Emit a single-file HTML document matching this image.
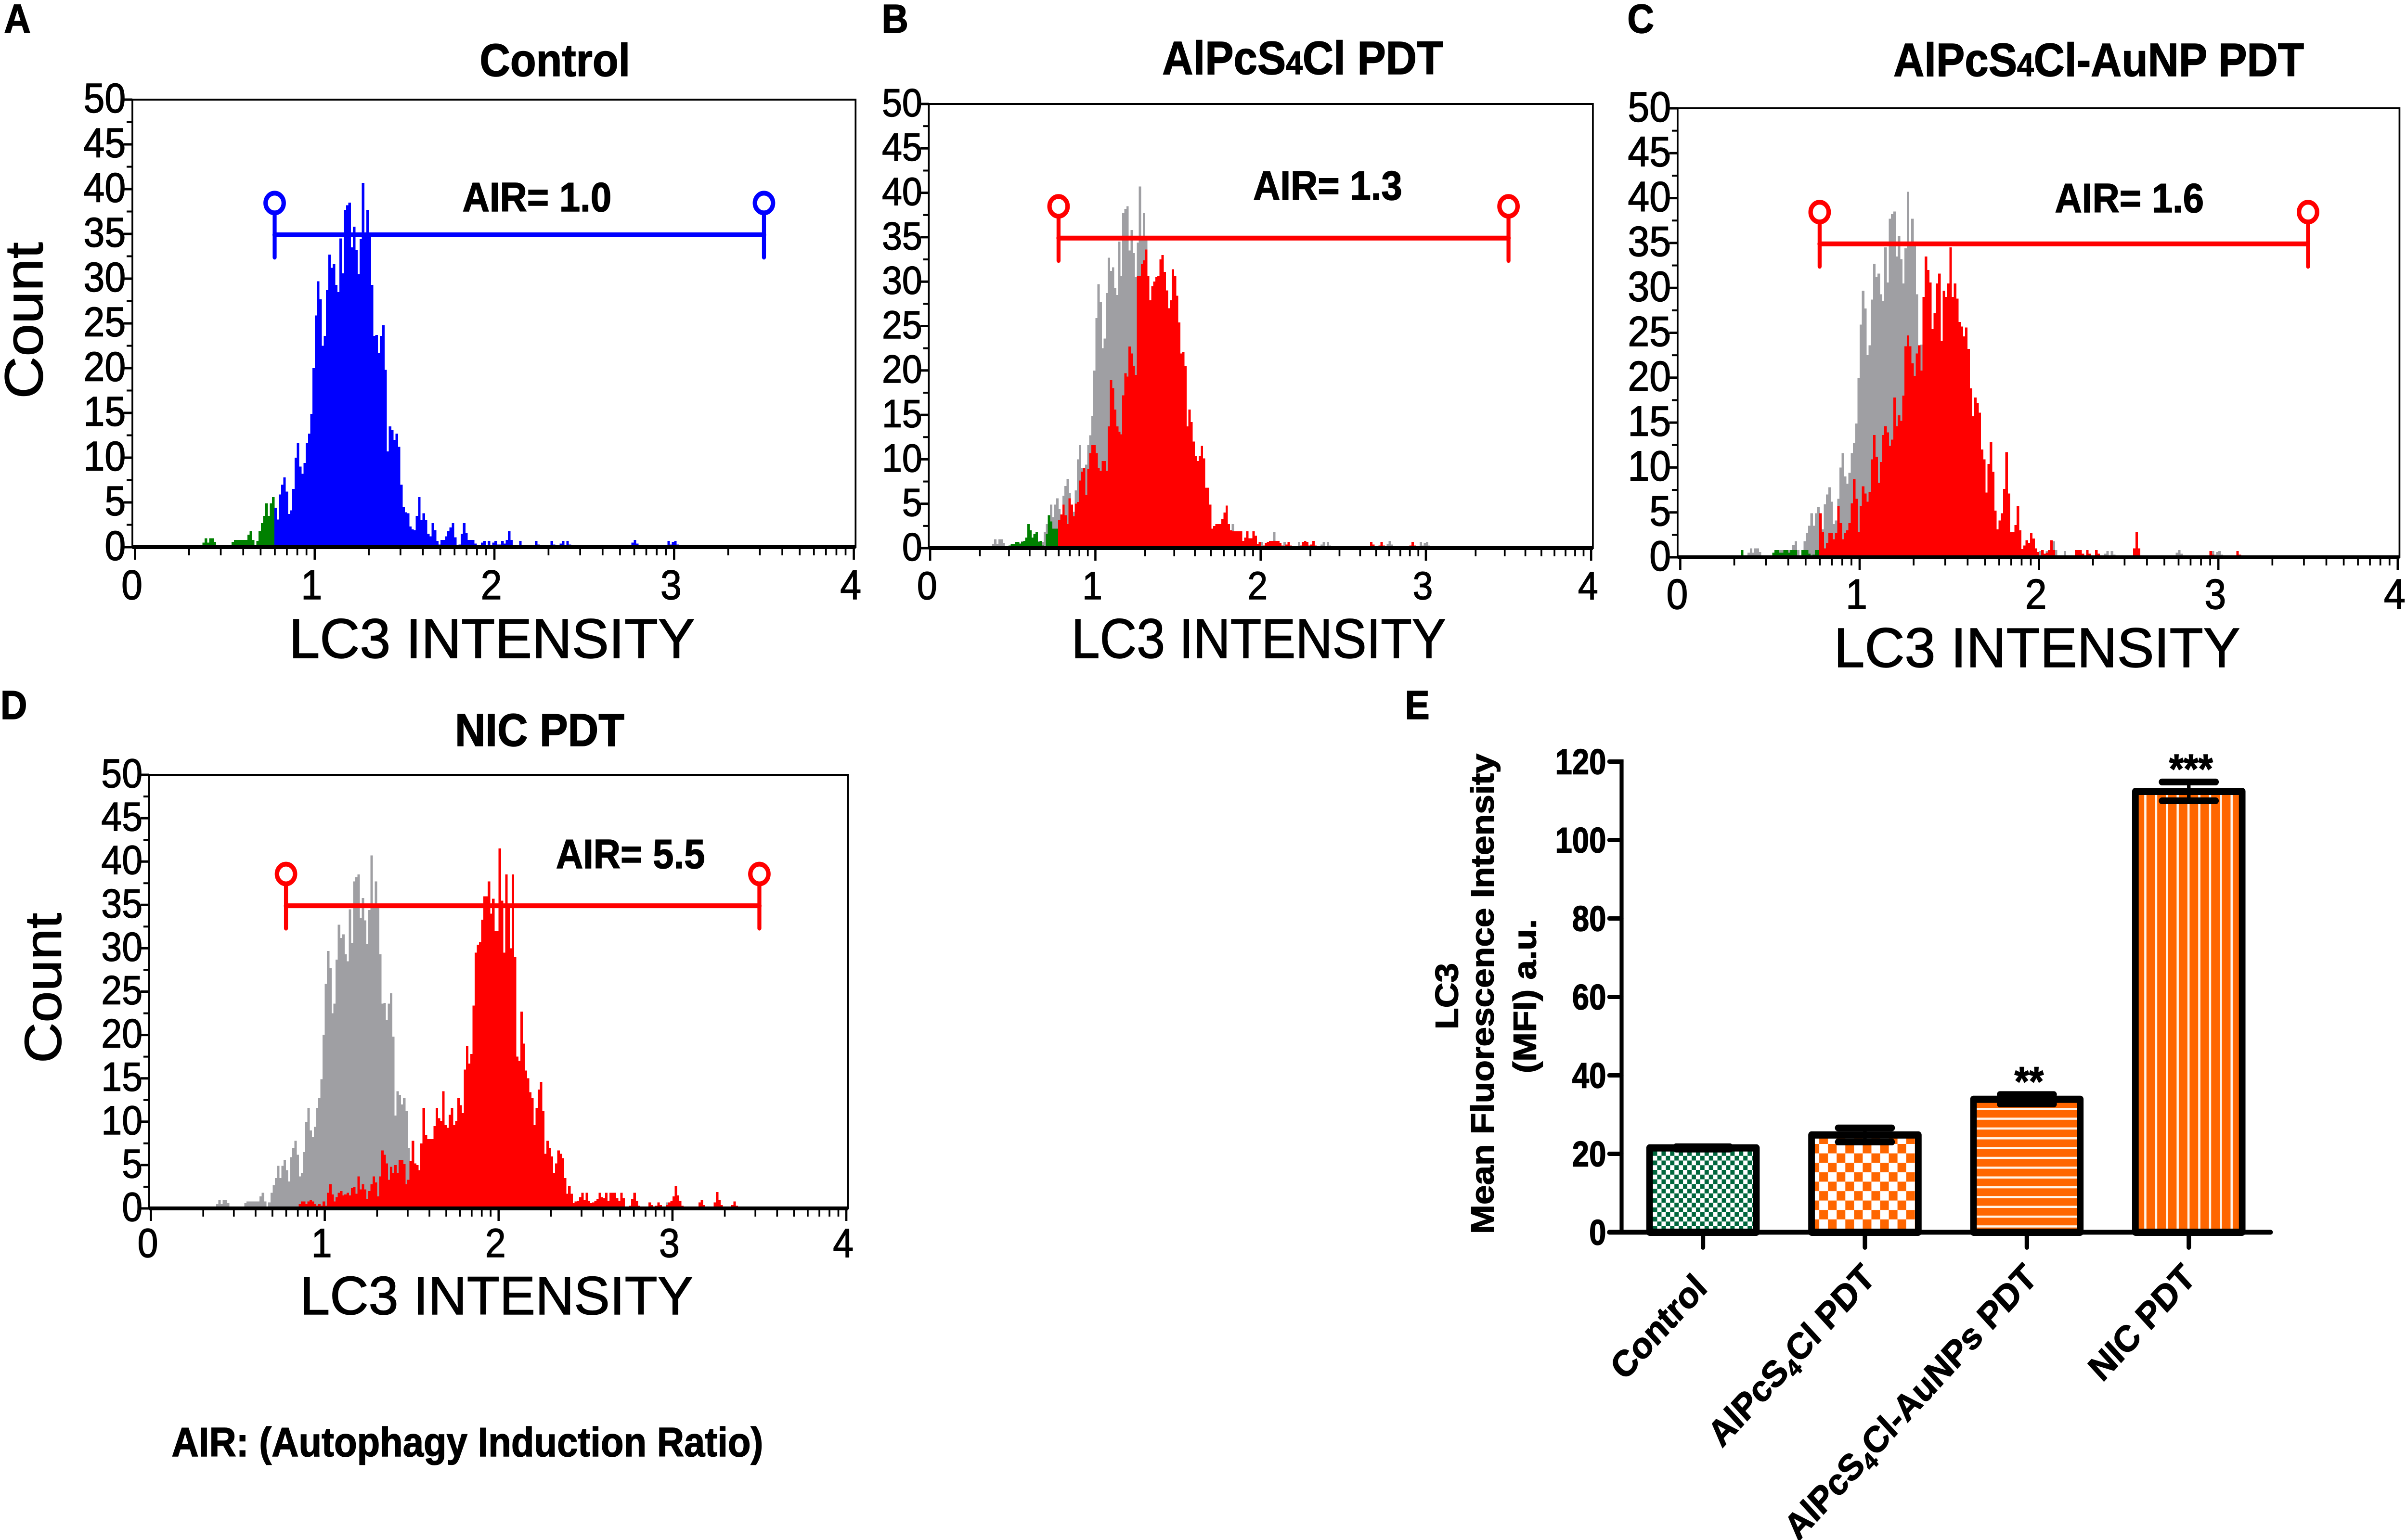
<!DOCTYPE html>
<html lang="en">
<head>
<meta charset="utf-8">
<title>LC3 flow cytometry histograms</title>
<style>
html,body{margin:0;padding:0;background:#fff;width:100%;height:100%;overflow:hidden}
svg{display:block;width:100vw;height:100vh}
text{font-family:"Liberation Sans",Arial,sans-serif;fill:#000;stroke:#000;stroke-width:1.5px}
.b{font-weight:700}
</style>
</head>
<body>
<svg id="fig" xmlns="http://www.w3.org/2000/svg" viewBox="0 0 5455 3200" preserveAspectRatio="none">
<defs>
<pattern id="p-green" patternUnits="userSpaceOnUse" width="19.5" height="19.5" patternTransform="translate(3746,2392)">
<rect width="19.5" height="19.5" fill="#fff"/><rect width="9.75" height="9.75" fill="#00663c"/><rect x="9.75" y="9.75" width="9.75" height="9.75" fill="#00663c"/>
</pattern>
<pattern id="p-orange" patternUnits="userSpaceOnUse" width="39.4" height="39.2" patternTransform="translate(4123,2377)">
<rect width="39.4" height="39.2" fill="#fff"/><rect x="19.7" width="19.7" height="19.6" fill="#ff6600"/><rect y="19.6" width="19.7" height="19.6" fill="#ff6600"/>
</pattern>
<pattern id="p-hstripe" patternUnits="userSpaceOnUse" width="20" height="20.35" patternTransform="translate(0,2302)">
<rect width="20" height="20.35" fill="#ff6600"/><rect width="20" height="4.5" fill="#fff4e8"/>
</pattern>
<pattern id="p-vstripe" patternUnits="userSpaceOnUse" width="24.45" height="20" patternTransform="translate(4859.5,0)">
<rect width="24.45" height="20" fill="#ff6600"/><rect width="5" height="20" fill="#fff4e8"/>
</pattern>
</defs>

<g id="plots"></g>

<g class="b" font-size="84">
<text class="b" x="9" y="68">A</text>
<text class="b" x="1998" y="68">B</text>
<text class="b" x="3688" y="68">C</text>
<text class="b" x="1" y="1494">D</text>
<text class="b" x="3184" y="1494">E</text>
</g>

<g font-size="96">
<text class="b" x="1087" y="158">Control</text>
<text class="b" x="2634" y="154" font-size="97">AlPcS<tspan font-size="68">4</tspan>Cl PDT</text>
<text class="b" x="4291" y="158" font-size="97">AlPcS<tspan font-size="68">4</tspan>Cl-AuNP PDT</text>
<text class="b" x="1031" y="1550">NIC PDT</text>
</g>

<g font-size="85">
<text class="b" x="1048" y="439">AIR= 1.0</text>
<text class="b" x="2840" y="415">AIR= 1.3</text>
<text class="b" x="4657" y="441">AIR= 1.6</text>
<text class="b" x="1260" y="1804">AIR= 5.5</text>
</g>

<g font-size="116">
<text x="655" y="1367" textLength="920" lengthAdjust="spacingAndGlyphs">LC3 INTENSITY</text>
<text x="2428" y="1367" textLength="849" lengthAdjust="spacingAndGlyphs">LC3 INTENSITY</text>
<text x="4156" y="1386" textLength="921" lengthAdjust="spacingAndGlyphs">LC3 INTENSITY</text>
<text x="680" y="2731" textLength="891" lengthAdjust="spacingAndGlyphs" font-size="112">LC3 INTENSITY</text>
</g>

<text font-size="122" text-anchor="middle" transform="translate(96,666) rotate(-90)">Count</text>
<text font-size="117" text-anchor="middle" transform="translate(138,2053) rotate(-90)">Count</text>

<text class="b" x="389" y="3026" font-size="85">AIR: (Autophagy Induction Ratio)</text>

<g font-size="73">
<text class="b" text-anchor="middle" transform="translate(3304,2070) rotate(-90)">LC3</text>
<text class="b" text-anchor="middle" transform="translate(3385,2065) rotate(-90)">Mean Fluorescence Intensity</text>
<text class="b" text-anchor="middle" transform="translate(3481,2070) rotate(-90)">(MFI) a.u.</text>
</g>
</svg>

<script>
// ---- Histogram data: counts per bin, bin width 1/80 of an axis unit ----
const binsPerUnit = 80;
const gateRange = [0.777, 3.5];
const gateCount = 34.9;
const yTickLabels = [0,5,10,15,20,25,30,35,40,45,50];
const xTickLabels = [0,1,2,3,4];

const controlStartBin = 30;
const controlCounts = [
.5,1,.5,1,1,.6,0,0,0,0,
0,0,0,.6,.8,.8,
.8,.8,.8,.8,1.4,1.8,.8,0,.7,1.8,
2.7,3.5,4.9,3.5,4.9,5.6,4.4,3.1,5.9,7,
7.8,6.2,3.7,4.1,6.5,10,11.6,9,8.2,9.4,
11.6,12.7,14.9,20,25.9,29.7,27.7,22.5,23.6,28.7,
32.7,31.2,31.6,29.3,28.5,34.5,30.6,37.7,38.2,38.5,
33.5,35.8,33.2,30.5,34.4,40.7,35,37.7,35,29.3,
23.6,23.7,21.7,23.6,24.8,19.8,10.7,13.5,13.1,12,
12.7,11.2,7,4.5,3.9,3.8,2.3,2,1.9,3.5,
5.6,3,3.8,3,1.5,1.2,2.7,1.9,.7,.3,
.8,.8,1.2,1.8,2.2,2.7,1.1,.1,.3,1.5,
2.7,1.6,.8,.8,.8,.4,0,.1,.5,.7,
.1,.7,.1,.5,.7,.3,.3,.7,.4,.8,
1.8,.8,0,0,0,.7,.1,0,0,0,
0,0,.7,.3,0,0,0,0,0,.7,
.3,0,0,.4,.7,.1,.7,.3,
0,0,0,0,0,0,0,0,0,0,0,0,0,0,0,0,0,0,0,0,0,0,0,0,0,0,0,
.5,.8,.4,
0,0,0,0,0,0,0,0,0,0,0,0,0,
.7,.3,.6,.7,.3
];

const alpcsStartBin = 38;
const alpcsCounts = [
.3,.5,.5,
.7,.7,.5,.7,.8,1.2,2.7,2,1.2,1.6,
1.8,.7,.8,.3,0,1.6,3.7,3,2.2,2.2,
2.2,3.2,3.8,4.9,3.7,2.7,5.6,4.9,3.6,5,
5.2,7.6,8.6,9,6,8.9,10.7,11.6,11.6,10.7,
9,8.7,9.8,9.8,8.7,13.7,18.9,18,15.6,13.7,
13.1,12.8,17.2,19.7,19.3,22.7,21.9,20.5,19.5,30.6,
30.6,32,32.4,33.6,30.6,27.9,29.5,30,30.5,30.6,
32.5,33,31.1,29,27,27.9,31.4,30.6,28.4,25.4,
21.9,22.1,20.5,13.7,15.6,14.2,12,10.4,9.8,10.4,
11.5,10.1,6.8,6.8,4.9,2.2,2.5,2.7,2.7,2.7,
3.3,4,4.8,2.7,2,1.9,1.9,1.9,1.9,1.9,
.8,1.2,1.9,1.1,1.1,1.9,1.4,.5,.7,.1,
.3,.6,.7,.8,.8,.8,.8,.8,.6,.3,
.1,.4,.7,.3,.1,.1,.1,.1,.3,.7,
.8,.7,.3,.4,.8,.3,.1,
0,0,0,0,0,0,0,0,0,0,0,0,0,0,0,0,0,0,0,0,0,0,0,0,0,
.7,.4,0,0,.3,.7,.3,
0,0,0,0,0,0,0,0,0,0,0,0,
.3,.7,.3
];

const aunpStartBin = 27;
const aunpCounts = [
.8,.2,
0,0,0,0,0,0,0,0,0,0,0,
.2,.5,.8,.8,.5,.5,.8,.8,.5,.8,
.8,.8,.2,0,.8,.8,.8,.4,.2,.3,
.8,.8,
4.9,2.8,1,1.6,2.7,2.7,2,2.7,
5.7,3.8,2,2.7,3,3.8,6,8.7,6.5,2.8,
5.7,7.9,7.1,6.2,7.3,10.9,13.6,11.2,8.3,10.6,
13.6,14.6,13.9,12.4,13.1,17.8,14.6,15.8,15.2,18,
23.5,24.7,23.5,21.6,20.2,22.7,23.6,20.8,29,33.5,
32,30.6,25.4,27.2,30.5,31.6,24.1,29.7,29,30.5,
34.5,29,30.5,28.8,26.2,25.7,24.6,25.6,23.2,18.8,
15.7,17.8,17.2,16.1,12,10.9,7.2,10.4,12.8,9.5,
5.2,3.1,4.1,4.9,7.6,11.7,7.1,2.8,2.8,3.6,
5.7,3,.9,1.3,1.9,1.6,2.7,2.1,1,.6,
.2,.8,.4,.5,.8,1.9,.8,
0,0,0,0,0,0,0,0,
.2,.8,.8,.8,.4,.2,.8,.4,0,0,.8,.4,
0,0,0,0,0,0,0,0,0,0,0,0,0,0,0,
1,2.8,1,
0,0,0,0,0,0,0,0,0,0,0,0,0,0,0,0,0,0,0,0,0,0,0,0,0,0,0,0,0,0,0,
.7,.3,
0,0,0,0,0,0,0,0,0,0,
.7,.3
];

const nicStartBin = 68;
const nicCounts = [
.5,.8,.8,.5,.8,1,.8,.5,.3,.5,
.3,.8,.3,1.8,2.8,1.6,.8,1.3,1.8,2,
1.5,1.6,1.8,1.5,2.4,
2.5,1.7,3.7,2.2,2.8,2.2,1.1,
2,2.8,3.7,3,1.4,3.7,6.7,6.2,5.2,3.3,
4.8,4.1,5,4.1,5.6,5.6,5.1,2.8,3.3,5.5,
7.8,5.2,5,4.4,7.5,11.6,8.5,8,8,8,
9.5,11.6,10.4,10.1,13.5,9.6,9.3,10.8,11.6,9.6,
10.1,12.7,11.9,11,16,18.7,16.7,17.8,23.4,29.5,
30.4,30.7,33.3,36,36,37.7,34,35.7,32,32,
41.5,35.5,29.5,38.5,34.7,30,38.5,29,17.5,17,
22.7,19,15.9,15,13.4,12.7,9.6,11.6,13.7,14.6,
11.2,6.3,7.8,7,6,4.1,5.2,6.7,6.3,5.8,
3.5,1.7,2.6,1.7,.6,.8,.9,1.3,1.8,1,
1.8,.9,.6,.7,.9,1.1,1.8,1.3,1.2,1.8,
.9,1.8,1.8,1.8,1.2,.9,1.8,1.2,.2,0,
.3,1.1,1.8,.9,.3,0,0,0,0,.7,
.4,0,.3,.7,.4,.2,0,.4,.7,.9,
1.4,2.6,1.5,.9,.3,0,0,0,0,0,
0,0,.7,1,.4,0,0,0,0,.7,
1.9,1,.4,0,0,0,0,.4,.8,.3
];

// ---- Bar chart data ----
const barLabels = ['Control','AlPcS4Cl PDT','AlPcS4Cl-AuNPs PDT','NIC PDT'];
const barValues = [21.5,24.8,33.9,112.4];
const barErrors = [0.3,1.8,1.2,2.4];
const barStars = ['','','**','***'];
const barFills = ['p-green','p-orange','p-hstripe','p-vstripe'];
const barYTicks = [0,20,40,60,80,100,120];

// ---- Drawing ----
const SVGNS = 'http://www.w3.org/2000/svg';
const plots = document.getElementById('plots');
function mk(tag, attrs, parent){
  const el = document.createElementNS(SVGNS, tag);
  for (const k in attrs) el.setAttribute(k, attrs[k]);
  
  parent.appendChild(el);
  return el;
}

const panels = [
  {id:'a', x0:306,  xu:407.25, yTop:207,  yBase:1137, boxL:300,  boxR:1939, fs:86, xlab:108, main:[controlCounts,controlStartBin], back:null, col:'#0000ff'},
  {id:'b', x0:2108, xu:374.5,  yTop:216,  yBase:1139, boxL:2105, boxR:3610, fs:82, xlab:106, main:[alpcsCounts,alpcsStartBin], back:[controlCounts,controlStartBin], col:'#ff0000'},
  {id:'c', x0:3808, xu:406.5,  yTop:225,  yBase:1158, boxL:3802, boxR:5438, fs:88, xlab:107, main:[aunpCounts,aunpStartBin], back:[controlCounts,controlStartBin], col:'#ff0000'},
  {id:'d', x0:342,  xu:394,    yTop:1610, yBase:2511, boxL:338,  boxR:1922, fs:84, xlab:101, main:[nicCounts,nicStartBin], back:[controlCounts,controlStartBin], col:'#ff0000'}
];

function drawBins(g, series, p, xf, yf, colorOf){
  const counts = series[0], start = series[1];
  counts.forEach(function(c, i){
    if (!(c > 0)) return;
    const bin = start + i;
    const v = bin / binsPerUnit;
    const r = mk('rect', {x: xf(v), y: yf(c), width: p.xu / binsPerUnit + 0.7, height: p.yBase - yf(c), fill: colorOf(v)}, g);
    
  });
}

panels.forEach(function(p){
  const xf = function(v){ return p.x0 + v * p.xu; };
  const yf = function(c){ return p.yBase - c * (p.yBase - p.yTop) / 50; };
  const g = mk('g', {}, plots);
  

  const box = mk('rect', {x:p.boxL, y:p.yTop, width:p.boxR-p.boxL, height:p.yBase-p.yTop, fill:'#fff', stroke:'#000', 'stroke-width':4}, g);
  

  const bins = mk('g', {'shape-rendering':'crispEdges'}, g);
  
  if (p.back) drawBins(bins, p.back, p, xf, yf, function(){ return '#9f9fa3'; });
  drawBins(bins, p.main, p, xf, yf, function(v){ return v < gateRange[0] - 0.01 ? '#008000' : p.col; });

  const base = mk('line', {x1:p.boxL, x2:p.boxR, y1:p.yBase, y2:p.yBase, stroke:'#000', 'stroke-width':8}, g);
  

  // y ticks
  yTickLabels.forEach(function(v){
    const t = mk('line', {x1:p.boxL-19, x2:p.boxL, y1:yf(v), y2:yf(v), stroke:'#000', 'stroke-width':5}, g);
    
    const lab = mk('text', {x:p.boxL-15, y:yf(v)+p.fs*0.31, 'font-size':p.fs, 'text-anchor':'end'}, g);
    
    lab.textContent = v;
    if (v < 50) {
      const m = mk('line', {x1:p.boxL-13, x2:p.boxL, y1:yf(v+2.5), y2:yf(v+2.5), stroke:'#000', 'stroke-width':4}, g);
      
    }
  });

  // x ticks (log-decade axis)
  xTickLabels.forEach(function(v){
    const t = mk('line', {x1:xf(v), x2:xf(v), y1:p.yBase, y2:p.yBase+26, stroke:'#000', 'stroke-width':5}, g);
    
    const lab = mk('text', {x:xf(v)-7, y:p.yBase+p.xlab, 'font-size':p.fs, 'text-anchor':'middle'}, g);
    
    lab.textContent = v;
    if (v < 4) {
      for (let m = 2; m <= 9; m++) {
        const pos = v + Math.log10(m);
        const mt = mk('line', {x1:xf(pos), x2:xf(pos), y1:p.yBase, y2:p.yBase+17, stroke:'#000', 'stroke-width':4}, g);
        
      }
    }
  });

  // gate marker
  const gc = p.id === 'a' ? '#0000ff' : '#ff0000';
  const gy = yf(gateCount);
  const gate = mk('g', {stroke:gc, fill:'none', 'stroke-linecap':'round'}, g);
  
  const hl = mk('line', {x1:xf(gateRange[0]), x2:xf(gateRange[1]), y1:gy, y2:gy, 'stroke-width':10}, gate);
  
  gateRange.forEach(function(v){
    const vl = mk('line', {x1:xf(v), x2:xf(v), y1:gy-46, y2:gy+47, 'stroke-width':9}, gate);
    
    const c = mk('circle', {cx:xf(v), cy:gy-66, r:20.5, 'stroke-width':10}, gate);
    
  });
});

// ---- Bar chart (panel E) ----
(function(){
  const yE = function(v){ return 2560.5 - v * 8.15; };
  const xE = function(i){ return 3859.5 + i * 367; };
  const g = mk('g', {}, plots);
  

  barValues.forEach(function(v, i){
    const b = mk('rect', {x:xE(i)-121, y:yE(v), width:242, height:2560.5-yE(v), fill:'url(#'+barFills[i]+')', stroke:'#000', 'stroke-width':15, 'stroke-linejoin':'round'}, g);
    
    const err = barErrors[i];
    const hi = yE(v + err), lo = yE(v - err);
    const stem = mk('line', {x1:xE(i), x2:xE(i), y1:hi, y2:lo, stroke:'#000', 'stroke-width':8}, g);
    
    [hi, lo].forEach(function(y){
      const cap = mk('line', {x1:xE(i)-61, x2:xE(i)+61, y1:y, y2:y, stroke:'#000', 'stroke-width':14, 'stroke-linecap':'round'}, g);
      
    });
    if (barStars[i]) {
      const s = mk('text', {x:xE(i)+5, y:hi+2, 'font-size':85, 'font-weight':700, 'text-anchor':'middle'}, g);
      
      s.textContent = barStars[i];
    }
    const t = mk('line', {x1:xE(i), x2:xE(i), y1:2561, y2:2592, stroke:'#000', 'stroke-width':10, 'stroke-linecap':'round'}, g);
    
    const endsInT = barLabels[i].slice(-1) === 'T';
    const labX = xE(i) + (endsInT ? (i === 3 ? 19 : 27) : 13);
    const labY = endsInT ? 2659 : 2680;
    const lab = mk('text', {transform:'translate('+labX+','+labY+') rotate(-45)', 'font-size':76, 'font-weight':700, 'text-anchor':'end'}, g);
    
    const parts = barLabels[i].split('4');
    if (parts.length === 2) {
      lab.appendChild(document.createTextNode(parts[0]));
      const sub = mk('tspan', {'font-size':50, dy:14}, lab);
      
      sub.textContent = '4';
      const rest = mk('tspan', {dy:-14}, lab);
      
      rest.textContent = parts[1];
    } else {
      lab.textContent = barLabels[i];
    }
  });

  const xa = mk('line', {x1:3647, x2:5146, y1:2560.5, y2:2560.5, stroke:'#000', 'stroke-width':10, 'stroke-linecap':'round'}, g);
  
  const ya = mk('line', {x1:3675, x2:3675, y1:1578, y2:2560, stroke:'#000', 'stroke-width':9}, g);
  
  barYTicks.forEach(function(v){
    const t = mk('line', {x1:3647, x2:3675, y1:yE(v), y2:yE(v), stroke:'#000', 'stroke-width':9, 'stroke-linecap':'round'}, g);
    
    const lab = mk('text', {x:3640, y:yE(v)+26, 'font-size':74, 'font-weight':700, 'text-anchor':'end', textLength:String(v).length*38.5, lengthAdjust:'spacingAndGlyphs'}, g);
    
    lab.textContent = v;
  });
})();
</script>
</body>
</html>
